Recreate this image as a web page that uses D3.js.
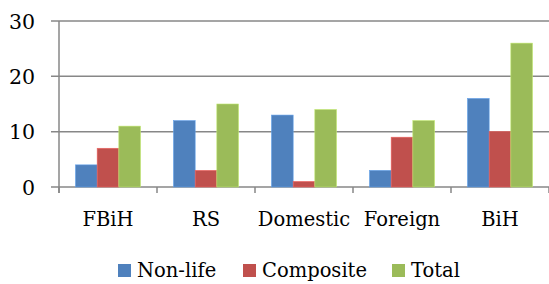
<!DOCTYPE html>
<html>
<head>
<meta charset="utf-8">
<script src="https://cdn.jsdelivr.net/npm/d3@7"></script>
<style>
  body { margin: 0; background: #fff; }
  svg text { font-family: "DejaVu Serif"; fill: #000; }
</style>
</head>
<body>
<div id="chart"></div>
<script>
// Dados
const categories = ['FBiH', 'RS', 'Domestic', 'Foreign', 'BiH'];
const seriesNames = ['Non-life', 'Composite', 'Total'];
const nonLife = [4, 12, 13, 3, 16];
const composite = [7, 3, 1, 9, 10];
const total = [11, 15, 14, 12, 26];
const yTicks = [0, 10, 20, 30];

const colors = ['#4f81bd', '#c0504d', '#9bbb59'];
const seriesValues = [nonLife, composite, total];

const width = 549, height = 284;
const plotLeft = 59, plotRight = 549, plotTop = 21, plotBottom = 187;

const svg = d3.select('#chart').append('svg')
  .attr('width', width)
  .attr('height', height);

const x0 = d3.scaleBand().domain(categories).range([plotLeft, plotRight]);
const x1 = d3.scaleBand().domain(seriesNames).range([16.5, x0.bandwidth() - 16.5]);
const y = d3.scaleLinear().domain([0, 30]).range([plotBottom, plotTop]);

// Grade
svg.append('g')
  .selectAll('line')
  .data(yTicks)
  .enter().append('line')
  .attr('x1', plotLeft - 8)
  .attr('x2', plotRight)
  .attr('y1', d => y(d))
  .attr('y2', d => y(d))
  .attr('stroke', '#878787')
  .attr('stroke-width', 1.5);

// Barras
const rows = categories.map((c, i) => seriesNames.map((s, j) => ({ cat: c, name: s, value: seriesValues[j][i], color: colors[j] })));
svg.append('g')
  .selectAll('g')
  .data(rows)
  .enter().append('g')
  .attr('transform', (d, i) => `translate(${x0(categories[i])},0)`)
  .selectAll('rect')
  .data(d => d)
  .enter().append('rect')
  .attr('x', d => x1(d.name))
  .attr('width', x1.bandwidth())
  .attr('y', d => y(d.value))
  .attr('height', d => y(0) - y(d.value))
  .attr('fill', d => d.color)
  .attr('stroke', d => d3.color(d.color).brighter(0.6))
  .attr('stroke-width', 0.6);

// Eixo Y
svg.append('line')
  .attr('x1', plotLeft).attr('x2', plotLeft)
  .attr('y1', plotTop).attr('y2', plotBottom + 6)
  .attr('stroke', '#878787').attr('stroke-width', 1.5);

svg.append('g')
  .selectAll('text')
  .data(yTicks)
  .enter().append('text')
  .attr('x', 35)
  .attr('y', d => y(d) + 7.5)
  .attr('text-anchor', 'end')
  .style('font-size', '20.5px')
  .text(d => d);

// Eixo X: ticks
const xTicks = categories.map(c => x0(c)).concat([plotRight]);
svg.append('g')
  .selectAll('line')
  .data(xTicks)
  .enter().append('line')
  .attr('x1', d => d).attr('x2', d => d)
  .attr('y1', plotBottom).attr('y2', plotBottom + 6)
  .attr('stroke', '#878787').attr('stroke-width', 1.5);

svg.append('g')
  .selectAll('text')
  .data(categories)
  .enter().append('text')
  .attr('x', d => x0(d) + x0.bandwidth() / 2)
  .attr('y', 226)
  .attr('text-anchor', 'middle')
  .style('font-size', '19.5px')
  .text(d => d);

// Legenda
const legendX = [118, 243, 392];
const legend = svg.append('g')
  .selectAll('g')
  .data(seriesNames)
  .enter().append('g')
  .attr('transform', (d, i) => `translate(${legendX[i]},264)`);
legend.append('rect')
  .attr('width', 13).attr('height', 13)
  .attr('fill', (d, i) => colors[i]);
legend.append('text')
  .attr('x', 19).attr('y', 13)
  .style('font-size', '19.5px')
  .text(d => d);
</script>
</body>
</html>
